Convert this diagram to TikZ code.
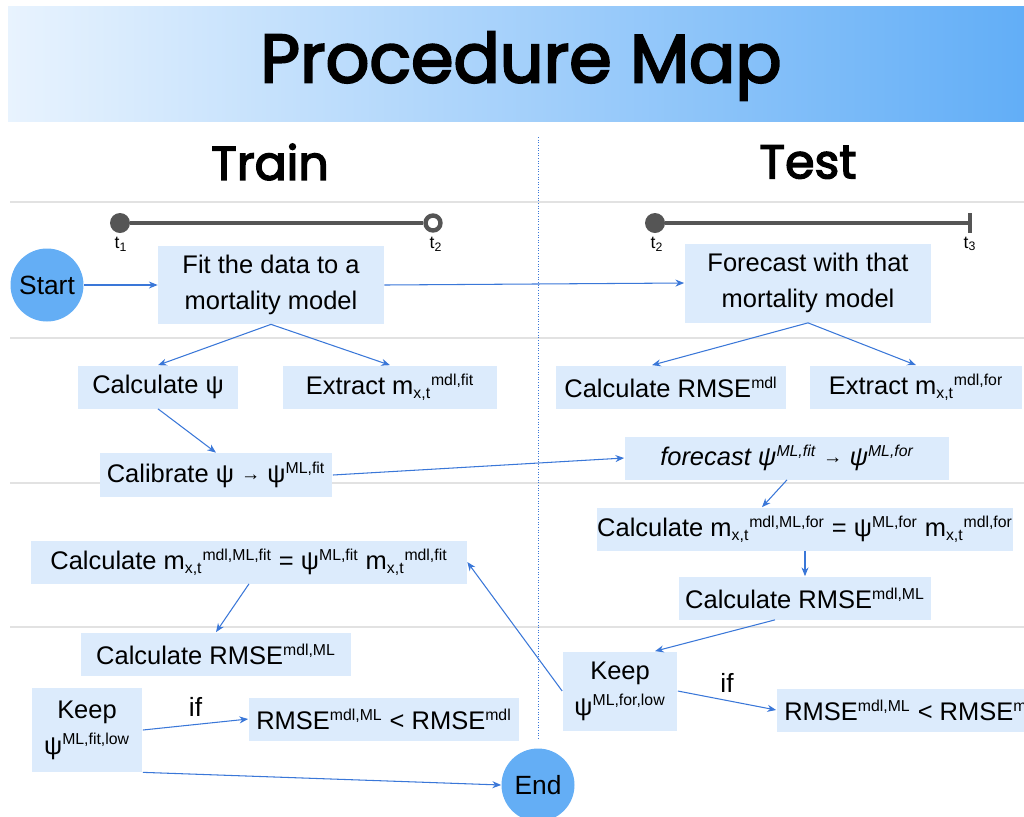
\documentclass[tikz,border=0pt]{standalone}
\usepackage{fontspec}
\setmainfont{Liberation Sans}
\newfontfamily\headfont[FakeBold=3]{Poppins}
\usetikzlibrary{arrows.meta}

\definecolor{boxblue}{HTML}{DCEBFC}
\definecolor{startblue}{HTML}{64AEF5}
\definecolor{linkblue}{HTML}{3A77D8}
\definecolor{bandleft}{HTML}{E8F3FE}
\definecolor{bandright}{HTML}{62AEF7}
\definecolor{rulegray}{HTML}{E2E2E2}
\definecolor{axisgray}{HTML}{555555}

\newcommand{\up}[1]{\textsuperscript{\fontsize{9}{10}\selectfont #1}}
\newcommand{\dn}[1]{\textsubscript{\fontsize{9}{10}\selectfont #1}}
\newcommand{\mxt}[1]{m\dn{x,t}\up{#1}}
\newcommand{\psiup}[1]{ψ\up{#1}}
\newcommand{\rmse}[1]{RMSE\up{#1}}
\newcommand{\sarrow}{\raisebox{1.3pt}{\fontsize{11}{11}\selectfont →}}

\begin{document}
\begin{tikzpicture}[x=0.02cm, y=-0.02cm,
  box/.style={fill=boxblue, inner sep=0pt, minimum height=0.86cm, align=center, font=\fontsize{14.5}{20.5}\selectfont},
  term/.style={circle, fill=startblue, inner sep=0pt, minimum size=1.46cm, font=\fontsize{15}{19}\selectfont},
  link/.style={draw=linkblue, line width=0.6pt, -{Stealth[length=5pt,width=4pt]}},
  heading/.style={font=\headfont\fontsize{27}{30}\selectfont},
  tlabel/.style={inner sep=0pt, font=\fontsize{10}{12}\selectfont},
  dot/.style={circle, fill=axisgray, inner sep=0pt, minimum size=0.4cm},
  ring/.style={circle, draw=axisgray, line width=2.5pt, fill=white, inner sep=0pt, minimum size=0.3cm}]
  \useasboundingbox (0,0) rectangle (1024,816);
  \shade[left color=bandleft, right color=bandright] (8,6) rectangle (1024,121);
  \node[font=\headfont\fontsize{39}{42}\selectfont] (title) at (521,66) {Procedure Map};
  \node[heading] (train) at (270,162) {Train};
  \node[heading] (test) at (808,162) {Test};
  \foreach \y in {202,338,483,627}
    \draw[rulegray, line width=0.8pt] (10,\y) -- (1024,\y);
  \draw[linkblue, densely dotted, line width=0.5pt] (538,137) -- (538,740);

  \node[dot] (t1) at (120,223) {};
  \node[ring] (t2) at (433,223) {};
  \draw[axisgray, line width=2.5pt] (t1) -- (t2);
  \node[dot] (t2r) at (655,223) {};
  \coordinate (t3) at (970,223);
  \draw[axisgray, line width=2.5pt] (t2r) -- (t3);
  \draw[axisgray, line width=2.5pt] ([yshift=0.2cm]t3) -- ([yshift=-0.2cm]t3);
  \node[tlabel] (t1lab) at (121,244) {t\textsubscript{1}};
  \node[tlabel] (t2lab) at (436,244) {t\textsubscript{2}};
  \node[tlabel] (t2rlab) at (657,244) {t\textsubscript{2}};
  \node[tlabel] (t3lab) at (970,244) {t\textsubscript{3}};

  \node[term] (start) at (47,285) {Start};
  \node[term] (end) at (538,785) {End};
  \node[box, minimum width=4.52cm, minimum height=1.56cm] (fit) at (271,285) {Fit the data to a\\mortality model};
  \node[box, minimum width=4.94cm, minimum height=1.58cm] (fcst) at (808,283) {Forecast with that\\mortality model};
  \node[box, minimum width=3.22cm] (calcpsi) at (158,387) {Calculate ψ};
  \node[box, minimum width=4.30cm] (extfit) at (390,387) {Extract \mxt{mdl,fit}};
  \node[box, minimum width=4.66cm, minimum height=0.88cm] (calib) at (216,475) {Calibrate ψ \sarrow{} \psiup{ML,fit}};
  \node[box, minimum width=4.62cm] (rmsemdl) at (671,387) {Calculate \rmse{mdl}};
  \node[box, minimum width=4.26cm] (extfor) at (916,387) {Extract \mxt{mdl,for}};
  \node[box, minimum width=6.50cm] (fcstpsi) at (787,458) {\itshape forecast \psiup{ML,fit} \sarrow{} \psiup{ML,for}};
  \node[box, minimum width=8.34cm] (calcmfor) at (805,529) {Calculate \mxt{mdl,ML,for} = \psiup{ML,for} \mxt{mdl,for}};
  \node[box, minimum width=8.72cm] (calcmfit) at (249,562) {Calculate \mxt{mdl,ML,fit} = \psiup{ML,fit} \mxt{mdl,fit}};
  \node[box, minimum width=5.06cm] (rmsemlR) at (805,598) {Calculate \rmse{mdl,ML}};
  \node[box, minimum width=5.40cm] (rmsemlL) at (216,654) {Calculate \rmse{mdl,ML}};
  \node[box, minimum width=2.22cm, minimum height=1.68cm] (keepfit) at (87,730) {Keep\\\psiup{ML,fit,low}};
  \node[box, minimum width=5.42cm] (condL) at (384,719) {\rmse{mdl,ML} < \rmse{mdl}};
  \node[box, minimum width=2.30cm, minimum height=1.58cm] (keepfor) at (620,691) {Keep\\\psiup{ML,for,low}};
  \node[box, minimum width=5.42cm] (condR) at (912,710) {\rmse{mdl,ML} < \rmse{mdl}};

  \draw[link] (start) -- (fit);
  \draw[link] (fit.east) -- (fcst.west);
  \draw[link] (fit.south) -- (calcpsi.north);
  \draw[link] (fit.south) -- (extfit.north);
  \draw[link] (fcst.south) -- ([xshift=-0.38cm]rmsemdl.north);
  \draw[link] (fcst.south) -- (extfor.north);
  \draw[link] (calcpsi.south) -- (calib.north);
  \draw[link] (calib.east) -- (fcstpsi.west);
  \draw[link] (fcstpsi.south) -- ([xshift=-0.86cm]calcmfor.north);
  \draw[link] (calcmfor.south) -- (rmsemlR.north);
  \draw[link] ([xshift=-0.6cm]rmsemlR.south) -- ([xshift=0.7cm]keepfor.north);
  \draw[link] (keepfor.west) -- (calcmfit.east);
  \draw[link] (keepfor.east) -- (condR.west) node[midway, above=1pt, font=\fontsize{15}{19}\selectfont] (ifR) {if};
  \draw[link] (calcmfit.south) -- (rmsemlL.north);
  \draw[link] (keepfit.east) -- (condL.west) node[midway, above=1pt, font=\fontsize{15}{19}\selectfont] (ifL) {if};
  \draw[link] (keepfit.south east) -- (end.west);
\end{tikzpicture}
\end{document}
